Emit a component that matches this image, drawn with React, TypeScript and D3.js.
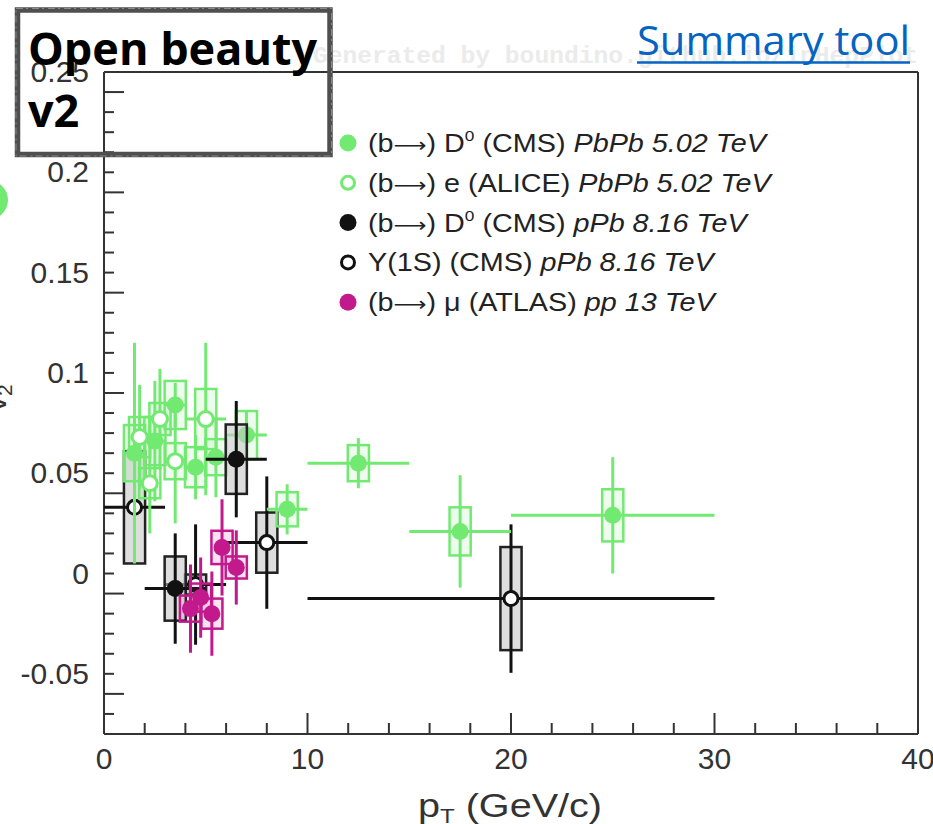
import React from "react";
import * as d3 from "d3";

const W = 933;
const H = 824;

// Axis ticks
const xMajorTicks = [0, 10, 20, 30, 40];
const xTickLabels = ["0", "10", "20", "30", "40"];
const yMajorTicks = [-0.05, 0, 0.05, 0.1, 0.15, 0.2, 0.25];
const yTickLabels = ["-0.05", "0", "0.05", "0.1", "0.15", "0.2", "0.25"];

// (b->) D0 CMS PbPb 5.02 TeV
const cmsPbPbPt = [1.5, 2.5, 3.5, 4.5, 5.5, 7, 9, 12.5, 17.5, 25];
const cmsPbPbV2 = [0.06, 0.066, 0.084, 0.053, 0.058, 0.069, 0.032, 0.055, 0.021, 0.029];
const cmsPbPbStat = [0.055, 0.03, 0.011, 0.016, 0.02, 0.012, 0.0125, 0.0125, 0.028, 0.029];
const cmsPbPbSyst = [0.014, 0.012, 0.012, 0.01, 0.009, 0.012, 0.0085, 0.009, 0.012, 0.013];
const cmsPbPbLo = [1, 2, 3, 4, 5, 6, 8, 10, 15, 20];
const cmsPbPbHi = [2, 3, 4, 5, 6, 8, 10, 15, 20, 30];

// (b->) e ALICE PbPb 5.02 TeV
const alicePt = [1.75, 2.25, 2.75, 3.5, 5];
const aliceV2 = [0.068, 0.045, 0.077, 0.056, 0.077];
const aliceStat = [0.026, 0.025, 0.025, 0.031, 0.038];
const aliceSyst = [0.01, 0.0075, 0.008, 0.009, 0.015];
const aliceLo = [1.3, 2, 2.5, 3, 4];
const aliceHi = [2, 2.5, 3, 4, 6];

// (b->) D0 CMS pPb 8.16 TeV
const cmsPPbPt = [3.5, 6.5];
const cmsPPbV2 = [-0.0075, 0.057];
const cmsPPbStat = [0.0275, 0.029];
const cmsPPbSyst = [0.016, 0.0173];
const cmsPPbLo = [2, 5];
const cmsPPbHi = [5, 8];

// Y(1S) CMS pPb 8.16 TeV
const upsPt = [1.5, 4.5, 8, 20];
const upsV2 = [0.033, -0.0055, 0.0154, -0.0125];
const upsStat = [0.026, 0.03, 0.033, 0.037];
const upsSyst = [0.028, 0.005, 0.015, 0.0257];
const upsLo = [0, 3, 6, 10];
const upsHi = [3, 6, 10, 30];

// (b->) mu ATLAS pp 13 TeV
const atlasPt = [4.25, 4.75, 5.3, 5.8, 6.5];
const atlasV2 = [-0.0175, -0.012, -0.02, 0.013, 0.003];
const atlasStat = [0.022, 0.02, 0.021, 0.024, 0.0185];
const atlasSyst = [0.0065, 0.007, 0.0075, 0.0083, 0.0055];

const GREEN = "#72ea72";
const MAGENTA = "#c2198d";
const BLACK = "#111";

type Series = {
  key: string;
  pt: number[];
  v2: number[];
  stat: number[];
  syst: number[];
  lo?: number[];
  hi?: number[];
  color: string;
  boxFill: string;
  boxStroke: string;
  open: boolean;
  r: number;
};

const series: Series[] = [
  { key: "ups", pt: upsPt, v2: upsV2, stat: upsStat, syst: upsSyst, lo: upsLo, hi: upsHi, color: BLACK, boxFill: "rgba(200,200,200,0.6)", boxStroke: "#222", open: true, r: 7 },
  { key: "cmsPbPb", pt: cmsPbPbPt, v2: cmsPbPbV2, stat: cmsPbPbStat, syst: cmsPbPbSyst, lo: cmsPbPbLo, hi: cmsPbPbHi, color: GREEN, boxFill: "rgba(114,234,114,0.12)", boxStroke: GREEN, open: false, r: 8.5 },
  { key: "alice", pt: alicePt, v2: aliceV2, stat: aliceStat, syst: aliceSyst, lo: aliceLo, hi: aliceHi, color: GREEN, boxFill: "rgba(114,234,114,0.12)", boxStroke: GREEN, open: true, r: 7.5 },
  { key: "cmsPPb", pt: cmsPPbPt, v2: cmsPPbV2, stat: cmsPPbStat, syst: cmsPPbSyst, lo: cmsPPbLo, hi: cmsPPbHi, color: BLACK, boxFill: "rgba(200,200,200,0.6)", boxStroke: "#222", open: false, r: 8.5 },
  { key: "atlas", pt: atlasPt, v2: atlasV2, stat: atlasStat, syst: atlasSyst, color: MAGENTA, boxFill: "rgba(194,25,141,0.12)", boxStroke: MAGENTA, open: false, r: 8.5 },
];

const legendRows = [
  { color: GREEN, open: false, arrow: true, pre: " D", sup: "0", mid: " (CMS) ", it: "PbPb 5.02 TeV" },
  { color: GREEN, open: true, arrow: true, pre: " e (ALICE) ", sup: "", mid: "", it: "PbPb 5.02 TeV" },
  { color: BLACK, open: false, arrow: true, pre: " D", sup: "0", mid: " (CMS) ", it: "pPb 8.16 TeV" },
  { color: BLACK, open: true, arrow: false, pre: "Y(1S) (CMS) ", sup: "", mid: "", it: "pPb 8.16 TeV" },
  { color: MAGENTA, open: false, arrow: true, pre: " \u03bc (ATLAS) ", sup: "", mid: "", it: "pp 13 TeV" },
];

const BOX_HALF = 0.52;

export default function App() {
  const x = d3.scaleLinear().domain([0, 40]).range([104, 918]);
  const y = d3.scaleLinear().domain([-0.08, 0.25]).range([734, 72]);
  const xMinor = d3.range(0, 40.001, 2);
  const yMinor = d3.range(-8, 25.001, 1).map((d) => d / 100);
  const axisColor = "#333";
  const font = "'Liberation Sans', Arial, sans-serif";

  return (
    <svg width={W} height={H} style={{ position: "absolute", left: 0, top: 0, background: "#fff" }}>
      {/* watermark */}
      <text x={313} y={63} fontFamily="'Liberation Mono', monospace" fontWeight={700} fontSize={24.6} fill="#ebebeb">
        Generated by boundino.github.io/inHepPlot
      </text>

      {/* frame */}
      <g stroke={axisColor} strokeWidth={2} fill="none">
        <line x1={x(0)} x2={x(40)} y1={y(0.25)} y2={y(0.25)} />
        <line x1={x(40)} x2={x(40)} y1={y(0.25)} y2={y(-0.08)} />
        <line x1={x(0)} x2={x(40)} y1={y(-0.08)} y2={y(-0.08)} />
        <line x1={x(0)} x2={x(0)} y1={y(0.25)} y2={y(-0.08)} />
        {xMinor.map((t) => (
          <line key={"xm" + t} x1={x(t)} x2={x(t)} y1={y(-0.08)} y2={y(-0.08) - (t % 10 === 0 ? 21 : 11)} />
        ))}
        {yMinor.map((t, i) => (
          <line key={"ym" + i} x1={x(0)} x2={x(0) + ((i + 3) % 5 === 0 ? 20 : 10)} y1={y(t)} y2={y(t)} />
        ))}
      </g>
      {xMajorTicks.map((t, i) => (
        <text key={"xl" + t} x={x(t)} y={769} textAnchor="middle" fontFamily={font} fontSize={30} fill={axisColor}>
          {xTickLabels[i]}
        </text>
      ))}
      {yMajorTicks.map((t, i) => (
        <text key={"yl" + t} x={89} y={y(t) + 10} textAnchor="end" fontFamily={font} fontSize={30} fill={axisColor}>
          {yTickLabels[i]}
        </text>
      ))}

      {/* axis titles */}
      <g transform="translate(510,817) scale(1.2,1)">
        <text x={0} y={0} textAnchor="middle" fontFamily={font} fontSize={33} fill={axisColor}>
          p<tspan fontSize={20} dy={6}>T</tspan>
          <tspan dy={-6}> (GeV/c)</tspan>
        </text>
      </g>
      <text transform="translate(6,412) rotate(-90)" fontFamily={font} fontSize={32} fill={axisColor}>
        v<tspan fontSize={21} dy={6}>2</tspan>
      </text>

      {/* data */}
      {series.map((s) => (
        <g key={s.key}>
          {s.pt.map((p, i) => (
            <rect
              key={"b" + i}
              x={x(p - BOX_HALF)}
              width={x(p + BOX_HALF) - x(p - BOX_HALF)}
              y={y(s.v2[i] + s.syst[i])}
              height={y(s.v2[i] - s.syst[i]) - y(s.v2[i] + s.syst[i])}
              fill={s.boxFill}
              stroke={s.boxStroke}
              strokeWidth={2.5}
            />
          ))}
          {s.pt.map((p, i) => (
            <g key={"e" + i} stroke={s.color} strokeWidth={3}>
              <line x1={x(p)} x2={x(p)} y1={y(s.v2[i] + s.stat[i])} y2={y(s.v2[i] - s.stat[i])} />
              {s.lo && s.hi ? (
                <line x1={x(s.lo[i])} x2={x(s.hi[i])} y1={y(s.v2[i])} y2={y(s.v2[i])} />
              ) : null}
            </g>
          ))}
          {s.pt.map((p, i) => (
            <circle
              key={"m" + i}
              cx={x(p)}
              cy={y(s.v2[i])}
              r={s.r}
              fill={s.open ? "#fff" : s.color}
              stroke={s.color}
              strokeWidth={s.open ? 3 : 0}
            />
          ))}
        </g>
      ))}

      {/* legend */}
      {legendRows.map((row, i) => {
        const cy = 143 + i * 39.8;
        return (
          <g key={"lg" + i}>
            <circle
              cx={348}
              cy={cy}
              r={row.open ? 6.5 : 8.5}
              fill={row.open ? "#fff" : row.color}
              stroke={row.color}
              strokeWidth={row.open ? 3 : 0}
            />
            <g transform={`translate(368,${cy + 9}) scale(1.15,1)`}>
              <text x={0} y={0} fontFamily={font} fontSize={25} fill="#222">
                {row.arrow ? "(b" : ""}
                {row.arrow ? <tspan fontFamily="'DejaVu Sans', sans-serif" fontSize={20}>{"\u27f6"}</tspan> : null}
                {row.arrow ? ")" : ""}
                {row.pre}
                {row.sup ? (
                  <tspan fontSize={15} dy={-11}>
                    {row.sup}
                  </tspan>
                ) : null}
                {row.sup ? <tspan dy={11}>{row.mid}</tspan> : null}
                <tspan fontStyle="italic">{row.it}</tspan>
              </text>
            </g>
          </g>
        );
      })}

      {/* left cut-off green shape */}
      <ellipse cx={-13} cy={200} rx={21} ry={20} fill={GREEN} />

      {/* title box */}
      <rect x={17.5} y={10} width={312.5} height={144.5} fill="none" stroke="#4f4f4f" strokeWidth={5.5} />
      <rect x={16} y={8.5} width={315.5} height={147.5} fill="none" stroke="#8a8a8a" strokeWidth={1} strokeDasharray="7 3 2 4" />
      <text x={28} y={65} fontFamily="'Open Sans', sans-serif" fontWeight={700} fontSize={45} fill="#000">
        Open beauty
      </text>
      <text x={28} y={127} fontFamily="'Open Sans', sans-serif" fontWeight={700} fontSize={45} fill="#000">
        v2
      </text>

      {/* link */}
      <text
        x={637}
        y={55}
        fontFamily="'Open Sans', sans-serif"
        fontSize={40}
        fill="#0563c1"
        textLength={273}
        lengthAdjust="spacingAndGlyphs"
      >
        Summary tool
      </text>
      <line x1={637} x2={910} y1={62.5} y2={62.5} stroke="#0563c1" strokeWidth={2.5} />
    </svg>
  );
}
